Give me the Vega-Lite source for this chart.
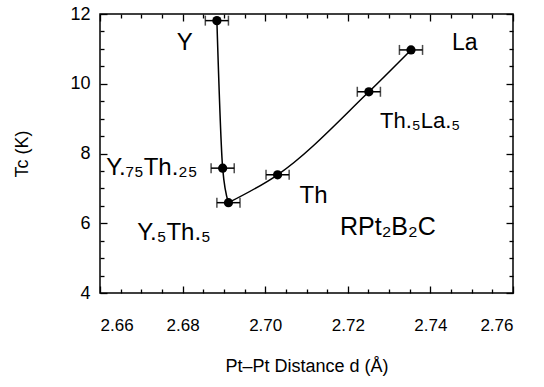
{
  "$schema": "https://vega.github.io/schema/vega-lite/v6.json",
  "width": 413,
  "height": 279,
  "autosize": {"type": "none"},
  "padding": {"left": 100, "top": 14, "right": 31, "bottom": 94},
  "background": "white",
  "config": {
    "view": {"stroke": "black", "strokeWidth": 1.5},
    "font": "Liberation Sans",
    "axis": {
      "domain": false,
      "grid": false,
      "ticks": true,
      "tickColor": "black",
      "tickWidth": 1.3,
      "labelColor": "black",
      "titleColor": "black",
      "labelFont": "Liberation Sans",
      "titleFont": "Liberation Sans",
      "labelFontSize": 17,
      "titleFontSize": 18,
      "titleFontWeight": "normal"
    }
  },
  "datasets": {
    "points": [
      {"name": "Y", "d": 2.6883, "tc": 11.81, "lo": 2.6855, "hi": 2.6911},
      {"name": "Y.75Th.25", "d": 2.6897, "tc": 7.58, "lo": 2.6869, "hi": 2.6925},
      {"name": "Y.5Th.5", "d": 2.6911, "tc": 6.59, "lo": 2.6883, "hi": 2.6939},
      {"name": "Th", "d": 2.7030, "tc": 7.39, "lo": 2.7002, "hi": 2.7058},
      {"name": "Th.5La.5", "d": 2.7251, "tc": 9.77, "lo": 2.7223, "hi": 2.7279},
      {"name": "La", "d": 2.7353, "tc": 10.97, "lo": 2.7325, "hi": 2.7381}
    ],
    "curve": [
      {"branch": "Y", "d": 2.6883, "tc": 11.81},
      {"branch": "Y", "d": 2.6897, "tc": 7.58},
      {"branch": "Y", "d": 2.6911, "tc": 6.59},
      {"branch": "ThLa", "d": 2.6911, "tc": 6.59},
      {"branch": "ThLa", "d": 2.7030, "tc": 7.39},
      {"branch": "ThLa", "d": 2.7251, "tc": 9.77},
      {"branch": "ThLa", "d": 2.7353, "tc": 10.97}
    ],
    "labels": [
      {"text": "Y", "x": 2.6786, "y": 10.97, "g": "c"},
      {"text": "Y.₇₅Th.₂₅", "x": 2.6615, "y": 7.39, "g": "c"},
      {"text": "Y.₅Th.₅", "x": 2.6690, "y": 5.52, "g": "c"},
      {"text": "Th", "x": 2.7083, "y": 6.59, "g": "c"},
      {"text": "Th.₅La.₅", "x": 2.7278, "y": 8.72, "g": "a"},
      {"text": "La", "x": 2.7452, "y": 10.97, "g": "b"},
      {"text": "RPt₂B₂C", "x": 2.7181, "y": 5.67, "g": "d"}
    ]
  },
  "layer": [
    {
      "data": {"name": "curve"},
      "mark": {"type": "line", "interpolate": "monotone", "color": "black", "strokeWidth": 1.5},
      "encoding": {
        "x": {
          "field": "d", "type": "quantitative",
          "scale": {"domain": [2.66, 2.76], "nice": false, "zero": false},
          "axis": {
            "orient": "bottom",
            "title": "Pt–Pt Distance d (Å)",
            "values": [2.66, 2.68, 2.70, 2.72, 2.74, 2.76],
            "format": ".2f",
            "tickSize": -7,
            "labelPadding": 31,
            "titlePadding": 24
          }
        },
        "y": {
          "field": "tc", "type": "quantitative",
          "scale": {"domain": [4, 12], "nice": false, "zero": false},
          "axis": {
            "orient": "left",
            "title": "Tc (K)",
            "values": [4, 6, 8, 10, 12],
            "format": "d",
            "labelFontSize": 18,
            "tickSize": -7,
            "labelPadding": 17,
            "titlePadding": 38
          }
        },
        "detail": {"field": "branch", "type": "nominal"},
        "order": {"field": "d", "type": "quantitative"}
      }
    },
    {
      "data": {"name": "points"},
      "mark": {"type": "errorbar", "color": "black", "thickness": 1.5, "ticks": true, "size": 10},
      "encoding": {
        "x": {
          "field": "lo", "type": "quantitative",
          "axis": {
            "orient": "bottom", "title": null, "labels": false,
            "values": [2.665, 2.67, 2.675, 2.685, 2.69, 2.695, 2.705, 2.71, 2.715, 2.725, 2.73, 2.735, 2.745, 2.75, 2.755],
            "tickSize": -4
          }
        },
        "x2": {"field": "hi"},
        "y": {
          "field": "tc", "type": "quantitative",
          "axis": {
            "orient": "left", "title": null, "labels": false,
            "values": [4.5, 5, 5.5, 6.5, 7, 7.5, 8.5, 9, 9.5, 10.5, 11, 11.5],
            "tickSize": -4
          }
        }
      }
    },
    {
      "data": {"name": "points"},
      "mark": {"type": "circle", "color": "black", "opacity": 1, "size": 85},
      "encoding": {
        "x": {
          "field": "d", "type": "quantitative",
          "axis": {
            "orient": "top", "title": null, "labels": false,
            "values": [2.66, 2.68, 2.70, 2.72, 2.74, 2.76],
            "tickSize": -7
          }
        },
        "y": {
          "field": "tc", "type": "quantitative",
          "axis": {
            "orient": "right", "title": null, "labels": false,
            "values": [4, 6, 8, 10, 12],
            "tickSize": -7
          }
        }
      }
    },
    {
      "data": {"name": "labels"},
      "mark": {"type": "text", "align": "left", "baseline": "alphabetic", "font": "Liberation Sans", "color": "black"},
      "encoding": {
        "x": {
          "field": "x", "type": "quantitative",
          "axis": {
            "orient": "top", "title": null, "labels": false,
            "values": [2.665, 2.67, 2.675, 2.685, 2.69, 2.695, 2.705, 2.71, 2.715, 2.725, 2.73, 2.735, 2.745, 2.75, 2.755],
            "tickSize": -4
          }
        },
        "y": {
          "field": "y", "type": "quantitative",
          "axis": {
            "orient": "right", "title": null, "labels": false,
            "values": [4.5, 5, 5.5, 6.5, 7, 7.5, 8.5, 9, 9.5, 10.5, 11, 11.5],
            "tickSize": -4
          }
        },
        "text": {"field": "text"},
        "size": {"field": "g", "type": "ordinal", "scale": {"domain": ["a", "b", "c", "d"], "range": [22, 25, 26, 34]}, "legend": null}
      }
    }
  ],
  "resolve": {"axis": {"x": "independent", "y": "independent"}}
}
